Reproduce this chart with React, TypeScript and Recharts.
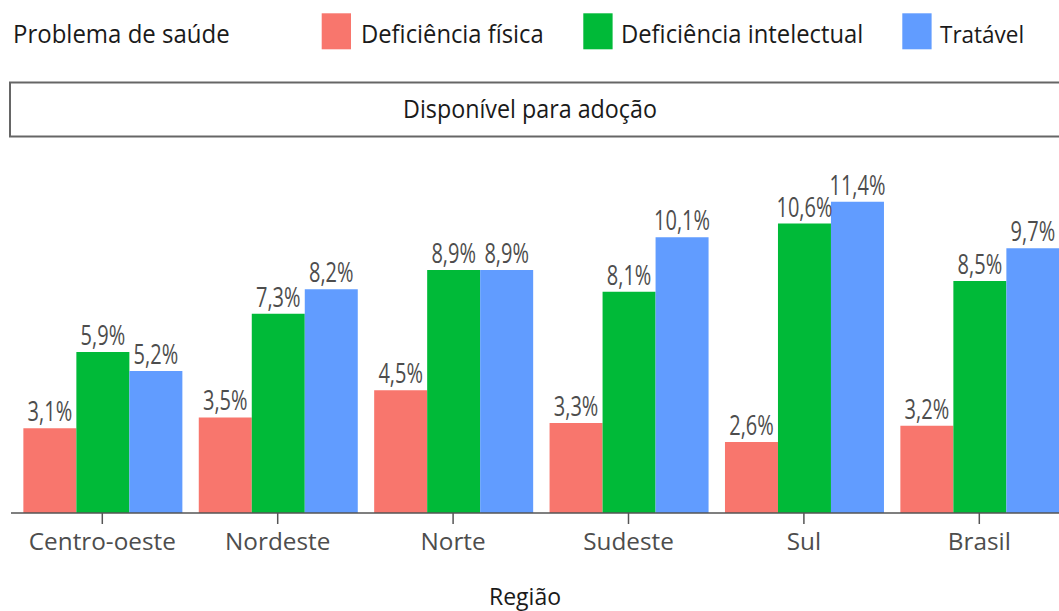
import { BarChart, Bar, XAxis, YAxis, LabelList } from "recharts";

const regions = ["Centro-oeste", "Nordeste", "Norte", "Sudeste", "Sul", "Brasil"];
const fisica = [3.1, 3.5, 4.5, 3.3, 2.6, 3.2];
const intelectual = [5.9, 7.3, 8.9, 8.1, 10.6, 8.5];
const tratavel = [5.2, 8.2, 8.9, 10.1, 11.4, 9.7];
const seriesKeys = ["fisica", "intelectual", "tratavel"];
const seriesNames = ["Deficiência física", "Deficiência intelectual", "Tratável"];
const seriesColors = ["#F8766D", "#00BA38", "#619CFF"];
const legendTitle = "Problema de saúde";
const stripLabel = "Disponível para adoção";
const xTitle = "Região";

const data = regions.map((regiao, i) => ({
  regiao,
  fisica: fisica[i],
  intelectual: intelectual[i],
  tratavel: tratavel[i],
}));

const FONT = "'Open Sans', sans-serif";
// legend positions (key left edge, label left edge)
const legendKeyX = [321.7, 583.3, 902.3];
const legendTextX = [361, 621, 940];

const fmt = (v: number) => v.toFixed(1).replace(".", ",") + "%";

function BarLabel(props: any) {
  const x = Number(props.x);
  const y = Number(props.y);
  const w = Number(props.width);
  const cx = x + w / 2;
  const by = y - 7;
  return (
    <text
      transform={`translate(${cx},${by}) scale(1,1.33)`}
      textAnchor="middle"
      fontFamily={FONT}
      fontSize={20}
      fill="#4d4d4d"
    >
      {fmt(Number(props.value))}
    </text>
  );
}

function RegionTick(props: any) {
  const { x, y, payload } = props;
  return (
    <text x={x} y={Number(y) + 26} textAnchor="middle" fontFamily={FONT} fontSize={24.3} fill="#4d4d4d">
      {payload.value}
    </text>
  );
}

export default function App() {
  return (
    <div
      style={{
        position: "absolute",
        left: 0,
        top: 0,
        width: 1059,
        height: 611,
        overflow: "hidden",
        background: "#fff",
      }}
    >
      <BarChart
        width={1067}
        height={611}
        data={data}
        margin={{ top: 185.4, right: 0, bottom: 0, left: 11 }}
        barCategoryGap="5%"
        barGap={0}
      >
        <XAxis
          dataKey="regiao"
          height={98}
          interval={0}
          padding={{ left: 3.6, right: 0 }}
          axisLine={{ stroke: "#555", strokeWidth: 1.5 }}
          tickLine={{ stroke: "#555", strokeWidth: 1.5 }}
          tickSize={11}
          tickMargin={0}
          tick={<RegionTick />}
        />
        <YAxis hide domain={[0, 12]} />
        {seriesKeys.map((k, i) => (
          <Bar key={k} dataKey={k} name={seriesNames[i]} fill={seriesColors[i]} isAnimationActive={false}>
            <LabelList dataKey={k} content={<BarLabel />} />
          </Bar>
        ))}
      </BarChart>

      <svg
        width={1059}
        height={611}
        style={{ position: "absolute", left: 0, top: 0, pointerEvents: "none" }}
      >
        <text transform="translate(13,42.5) scale(1,1.05)" fontFamily={FONT} fontSize={24} fill="#1a1a1a">
          {legendTitle}
        </text>
        {seriesNames.map((name, i) => (
          <g key={name}>
            <rect x={legendKeyX[i]} y={13.3} width={29.3} height={36} fill={seriesColors[i]} />
            <text
              transform={`translate(${legendTextX[i]},42.5) scale(1,1.05)`}
              fontFamily={FONT}
              fontSize={i === 2 ? 22.5 : 23.8}
              fill="#1a1a1a"
            >
              {name}
            </text>
          </g>
        ))}

        <rect x={10} y={82.5} width={1100} height={54} fill="#fff" stroke="#666" strokeWidth={2} />
        <text
          transform="translate(530,118) scale(1,1.12)"
          textAnchor="middle"
          fontFamily={FONT}
          fontSize={23.3}
          fill="#1a1a1a"
        >
          {stripLabel}
        </text>

        <text x={525} y={605} textAnchor="middle" fontFamily={FONT} fontSize={23} fill="#1a1a1a">
          {xTitle}
        </text>
      </svg>
    </div>
  );
}
